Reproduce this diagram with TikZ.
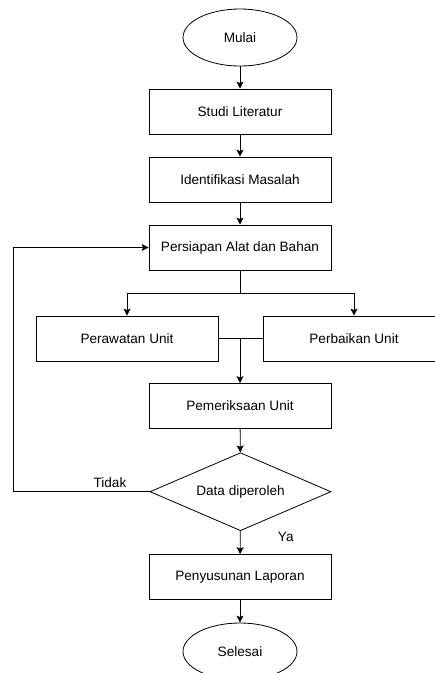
\documentclass[tikz,border=0pt]{standalone}
\usepackage{fontspec}
\setmainfont{Liberation Sans}
\usetikzlibrary{shapes.geometric,arrows.meta}

\begin{document}
\begin{tikzpicture}[x=1pt,y=-1pt,line width=0.8pt,
  font=\fontsize{13.6}{16}\selectfont,
  proses/.style={rectangle,draw,minimum width=182pt,minimum height=45pt},
  terminal/.style={ellipse,draw,minimum width=114pt,minimum height=57pt},
  keputusan/.style={diamond,draw,aspect=2.3,inner sep=0pt,minimum width=181pt,minimum height=78pt},
  >={Stealth[length=7pt,width=7pt,inset=1.5pt]}]
\useasboundingbox (0,0) rectangle (435,673);

\path (240,37.5) node[terminal] (mulai) {Mulai};
\path (240,111.5) node[proses] (studi) {Studi Literatur};
\path (240,179.5) node[proses] (identifikasi) {Identifikasi Masalah};
\path (240,247.5) node[proses] (persiapan) {Persiapan Alat dan Bahan};
\draw[->] (mulai) -- (studi);
\draw[->] (studi) -- (identifikasi);
\draw[->] (identifikasi) -- (persiapan);

\path (127,338.5) node[proses] (perawatan) {Perawatan Unit};
\path (354,338.5) node[proses] (perbaikan) {Perbaikan Unit};
\coordinate (cabang) at (240,293);
\draw (persiapan) -- (cabang);
\draw[->] (cabang) -| (perawatan);
\draw[->] (cabang) -| (perbaikan);

\path (240,406) node[proses] (pemeriksaan) {Pemeriksaan Unit};
\coordinate (gabung) at (240,338.5);
\draw (perawatan) -- (perbaikan);
\draw[->] (gabung) -- (pemeriksaan);

\path (240.5,491.7) node[keputusan] (data) {Data diperoleh};
\draw[->] (pemeriksaan) -- (data);
\coordinate (kembali) at (13,491.7);
\draw[->] (data) -- node[above,pos=0.29]{Tidak} (kembali) |- (persiapan);

\path (240,577) node[proses] (penyusunan) {Penyusunan Laporan};
\draw[->] (data) -- node[right=34pt,pos=0.25]{Ya} (penyusunan);
\path (240,651.5) node[terminal] (selesai) {Selesai};
\draw[->] (penyusunan) -- (selesai);
\end{tikzpicture}
\end{document}
